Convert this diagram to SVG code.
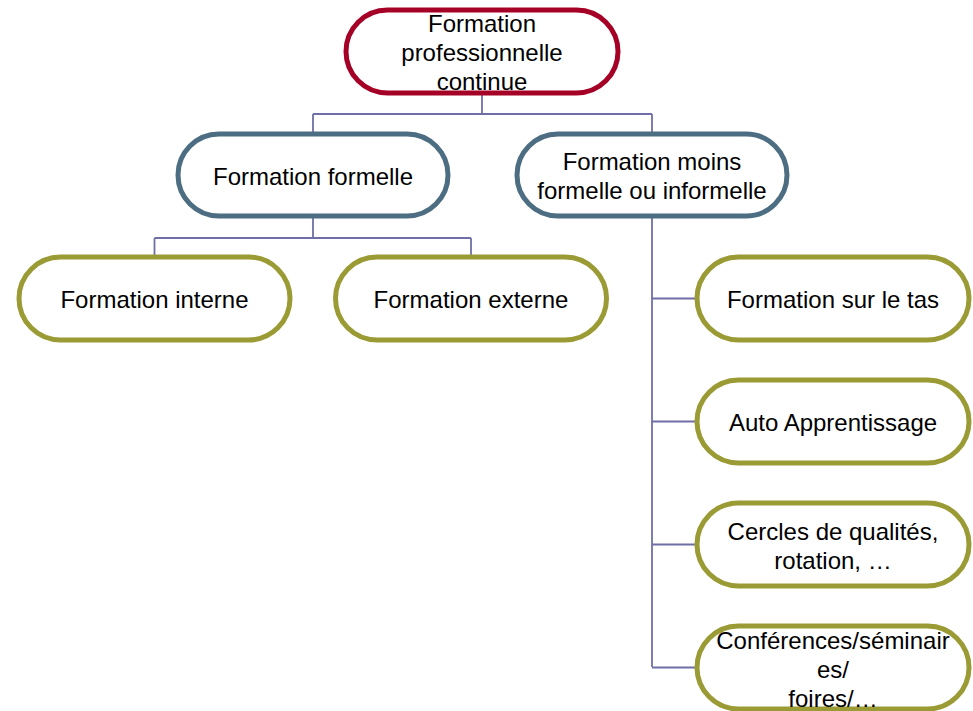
<svg xmlns="http://www.w3.org/2000/svg" width="973" height="711" viewBox="0 0 973 711">
<style>
.n rect{fill:#fff;stroke-width:5}
.r rect{stroke:#A50026}
.b rect{stroke:#4D6E82}
.g rect{stroke:#9B9B35}
text{font-family:"Liberation Sans",Arial,sans-serif;font-size:24px;fill:#000;text-anchor:middle}
.c{fill:none;stroke:#6F6FA6;stroke-width:1.8}
</style>
<rect width="973" height="711" fill="#fff"/>
<g id="connectors">
<path class="c" d="M482 93V114M313 114H652M313 114V134M652 114V134"/>
<path class="c" d="M313 216V238M154.5 238H471M154.5 238V257M471 238V257"/>
<path class="c" d="M652 216V667M652 298.5H697M652 421.5H697M652 544.5H697M652 667.5H697"/>
</g>
<g id="n1" class="n r"><rect x="346" y="10" width="272" height="83" rx="41.5"/><text x="482" y="32">Formation</text><text x="482" y="61">professionnelle</text><text x="482" y="90">continue</text></g>
<g id="n2" class="n b"><rect x="178" y="134" width="270" height="82" rx="41"/><text x="313" y="185">Formation formelle</text></g>
<g id="n3" class="n b"><rect x="517" y="134" width="270" height="82" rx="41"/><text x="652" y="170">Formation moins</text><text x="652" y="199">formelle ou informelle</text></g>
<g id="n4" class="n g"><rect x="19" y="257" width="271" height="83" rx="41.5"/><text x="154.5" y="308">Formation interne</text></g>
<g id="n5" class="n g"><rect x="335.5" y="257" width="271" height="83" rx="41.5"/><text x="471" y="308">Formation externe</text></g>
<g id="n6" class="n g"><rect x="697" y="257" width="272" height="83" rx="41.5"/><text x="833" y="308">Formation sur le tas</text></g>
<g id="n7" class="n g"><rect x="697" y="380" width="272" height="83" rx="41.5"/><text x="833" y="431">Auto Apprentissage</text></g>
<g id="n8" class="n g"><rect x="697" y="503" width="272" height="83" rx="41.5"/><text x="833" y="540">Cercles de qualités,</text><text x="833" y="569">rotation, …</text></g>
<g id="n9" class="n g"><rect x="697" y="626" width="272" height="83" rx="41.5"/><text x="833" y="649">Conférences/séminair</text><text x="833" y="678">es/</text><text x="833" y="707">foires/…</text></g>
</svg>
